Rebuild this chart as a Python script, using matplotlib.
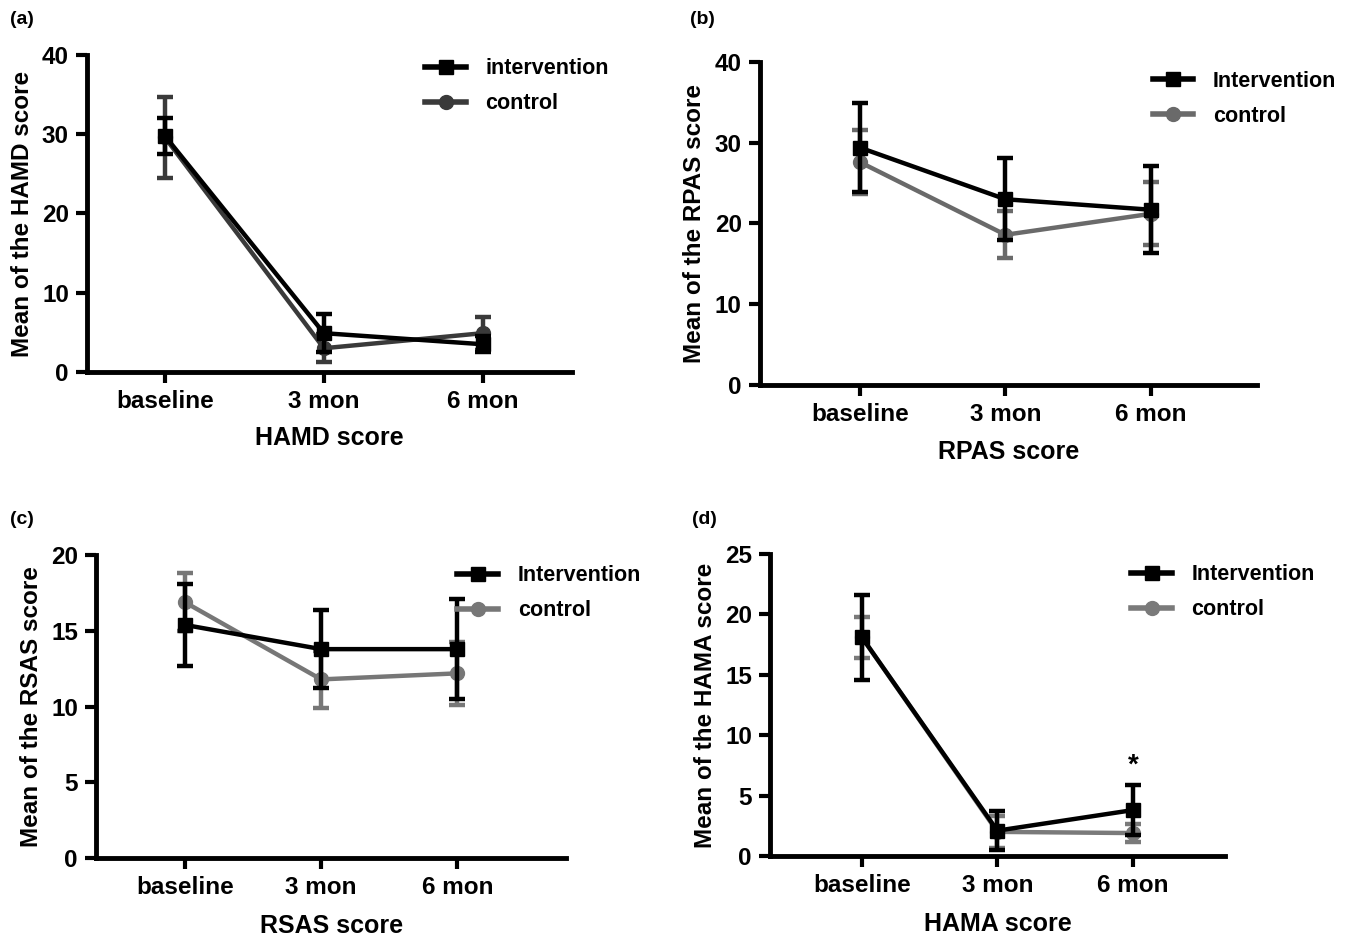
import matplotlib
matplotlib.use("Agg")
import matplotlib.pyplot as plt
from matplotlib.lines import Line2D

plt.rcParams["font.family"] = ["Liberation Sans", "DejaVu Sans"]
plt.rcParams["font.weight"] = "bold"

timepoints = ["baseline", "3 mon", "6 mon"]

# (a) HAMD
hamd_int = [29.8, 4.9, 3.5]
hamd_int_err = [2.3, 2.4, 1.0]
hamd_ctl = [29.6, 3.0, 4.9]
hamd_ctl_err = [5.1, 1.8, 2.1]

# (b) RPAS
rpas_int = [29.4, 23.0, 21.7]
rpas_int_err = [5.5, 5.1, 5.4]
rpas_ctl = [27.6, 18.6, 21.2]
rpas_ctl_err = [4.0, 2.9, 3.9]

# (c) RSAS
rsas_int = [15.4, 13.8, 13.8]
rsas_int_err = [2.7, 2.6, 3.3]
rsas_ctl = [16.9, 11.8, 12.2]
rsas_ctl_err = [1.9, 1.9, 2.1]

# (d) HAMA
hama_int = [18.1, 2.1, 3.8]
hama_int_err = [3.5, 1.6, 2.1]
hama_ctl = [18.1, 2.0, 1.9]
hama_ctl_err = [1.7, 1.3, 0.75]

panels = [
    dict(tag="(a)", tagpos=(10, 20), rect=[0.0643, 0.6034, 0.3587, 0.338], xlim=(-0.49, 2.56),
         ymax=40, yticks=[0, 10, 20, 30, 40], xlabel="HAMD score", xpad=9,
         ylabel="Mean of the HAMD score", inter=hamd_int, inter_err=hamd_int_err,
         ctl=hamd_ctl, ctl_err=hamd_ctl_err, ctl_color="#3a3a3a",
         names=["intervention", "control"], leg=(0.68, 1.017)),
    dict(tag="(b)", tagpos=(690, 20), rect=[0.562, 0.5896, 0.368, 0.3443], xlim=(-0.687, 2.73),
         ymax=40, yticks=[0, 10, 20, 30, 40], xlabel="RPAS score", xpad=10,
         ylabel="Mean of the RPAS score", inter=rpas_int, inter_err=rpas_int_err,
         ctl=rpas_ctl, ctl_err=rpas_ctl_err, ctl_color="#6a6a6a",
         names=["Intervention", "control"], leg=(0.772, 1.0)),
    dict(tag="(c)", tagpos=(10, 520), rect=[0.071, 0.0853, 0.348, 0.3227], xlim=(-0.652, 2.80),
         ymax=20, yticks=[0, 5, 10, 15, 20], xlabel="RSAS score", xpad=11,
         ylabel="Mean of the RSAS score", inter=rsas_int, inter_err=rsas_int_err,
         ctl=rsas_ctl, ctl_err=rsas_ctl_err, ctl_color="#777777",
         names=["Intervention", "control"], leg=(0.75, 0.995)),
    dict(tag="(d)", tagpos=(692, 520), rect=[0.5695, 0.0874, 0.3365, 0.322], xlim=(-0.679, 2.68),
         ymax=25, yticks=[0, 5, 10, 15, 20, 25], xlabel="HAMA score", xpad=11,
         ylabel="Mean of the HAMA score", inter=hama_int, inter_err=hama_int_err,
         ctl=hama_ctl, ctl_err=hama_ctl_err, ctl_color="#7a7a7a",
         names=["Intervention", "control"], leg=(0.775, 0.995)),
]

W, H = 1352, 938
fig = plt.figure(figsize=(W / 100, H / 100), dpi=100)
xs = list(range(len(timepoints)))

for p in panels:
    ax = fig.add_axes(p["rect"])
    ax.errorbar(xs, p["ctl"], yerr=p["ctl_err"], color=p["ctl_color"], marker="o",
                markersize=10, linewidth=3.2, elinewidth=3.2, capsize=6, capthick=3.2,
                zorder=3)
    ax.errorbar(xs, p["inter"], yerr=p["inter_err"], color="black", marker="s",
                markersize=10, linewidth=3.2, elinewidth=3.2, capsize=6, capthick=3.2,
                zorder=4)
    ax.set_xlim(*p["xlim"])
    ax.set_ylim(0, p["ymax"])
    ax.set_yticks(p["yticks"])
    ax.set_xticks(xs)
    ax.set_xticklabels(timepoints)
    for s in ["top", "right"]:
        ax.spines[s].set_visible(False)
    for s in ["left", "bottom"]:
        ax.spines[s].set_linewidth(3.5)
    ax.tick_params(axis="both", width=3, length=8, labelsize=17.5, pad=5)
    ax.set_xlabel(p["xlabel"], fontsize=18, fontweight="bold", labelpad=p["xpad"])
    ax.set_ylabel(p["ylabel"], fontsize=17.5, fontweight="bold", labelpad=6)

    handles = [
        Line2D([], [], color="black", marker="s", markersize=10, linewidth=4),
        Line2D([], [], color=p["ctl_color"], marker="o", markersize=10, linewidth=4),
    ]
    ax.legend(handles, p["names"], loc="upper left", bbox_to_anchor=p["leg"],
              frameon=False, fontsize=15.5, handlelength=1.9, handletextpad=0.9,
              labelspacing=0.65, borderaxespad=0)
    fig.text(p["tagpos"][0] / W, 1 - p["tagpos"][1] / H, p["tag"], fontsize=14,
             fontweight="bold", va="center", ha="left")

# significance mark in panel (d)
axd = fig.axes[3]
axd.text(2, hama_int[2] + hama_int_err[2] + 0.5, "*", ha="center", va="bottom",
         fontsize=20, fontweight="bold")

fig.savefig("out.png", dpi=100)
